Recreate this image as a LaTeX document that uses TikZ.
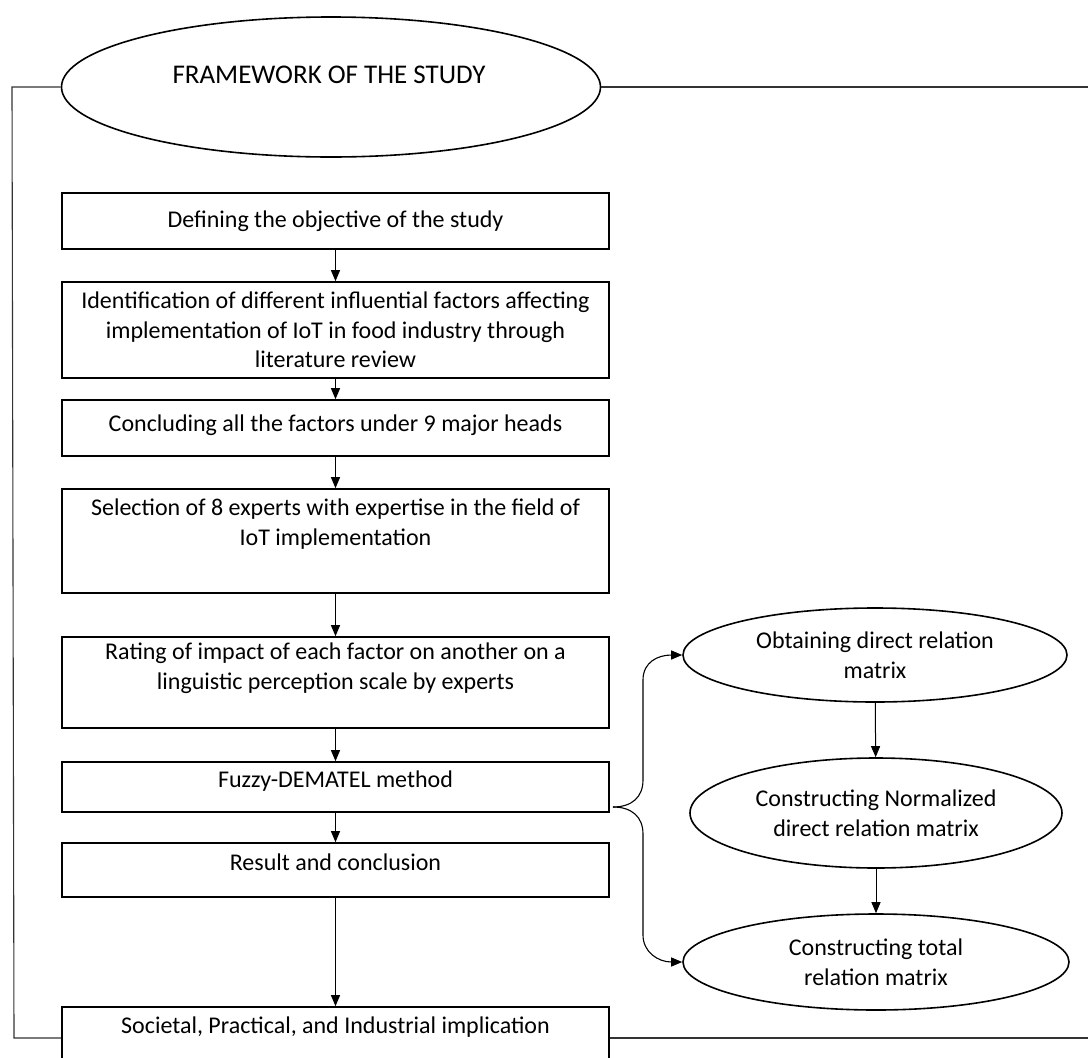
\documentclass[tikz,border=0pt]{standalone}
\usepackage{fontspec}
\setmainfont{Carlito}
\usetikzlibrary{shapes.geometric,arrows.meta}
\begin{document}
\begin{tikzpicture}[x=1pt,y=-1pt,
  every node/.style={font=\fontsize{24pt}{29.5pt}\selectfont},
  stepbox/.style={draw, line width=1.6pt, minimum width=547pt, inner sep=0pt},
  txt/.style={align=center, inner sep=0pt},
  ell/.style={draw, ellipse, line width=1.6pt, inner sep=0pt, align=center},
  arr/.style={-{Triangle[length=11pt,width=9pt]}, line width=1pt},
  frameline/.style={line width=1.1pt, draw=black!80}]
\useasboundingbox (0,0) rectangle (1088,1058);
\clip (0,0) rectangle (1088,1058);
\fill[white] (0,0) rectangle (1088,1058);

% title
\node[ell, minimum width=539pt, minimum height=140pt] (title) at (331,87) {};
\node[txt, font=\fontsize{27pt}{32pt}\selectfont] (titletext) at (329,75) {FRAMEWORK OF THE STUDY};

% main boxes
\node[stepbox, minimum height=56pt] (b1) at (335.5,221) {};
\node[stepbox, minimum height=96pt] (b2) at (335.5,330) {};
\node[stepbox, minimum height=56pt] (b3) at (335.5,428) {};
\node[stepbox, minimum height=104pt] (b4) at (335.5,541) {};
\node[stepbox, minimum height=91pt] (b5) at (335.5,682.5) {};
\node[stepbox, minimum height=50pt] (b6) at (335.5,787) {};
\node[stepbox, minimum height=54pt] (b7) at (335.5,870) {};
\node[stepbox, minimum height=62pt] (b8) at (335.5,1038) {};

\node[txt] (t1) at (335.5,221) {Defining the objective of the study};
\node[txt] (t2) at (335.5,330) {Identification of different influential factors affecting\\implementation of IoT in food industry through\\literature review};
\node[txt] (t3) at (335.5,425) {Concluding all the factors under 9 major heads};
\node[txt] (t4) at (335.5,524) {Selection of 8 experts with expertise in the field of\\IoT implementation};
\node[txt] (t5) at (335.5,668) {Rating of impact of each factor on another on a\\linguistic perception scale by experts};
\node[txt] (t6) at (335.5,781) {Fuzzy-DEMATEL method};
\node[txt] (t7) at (335.5,862) {Result and conclusion};
\node[txt] (t8) at (335.5,1027) {Societal, Practical, and Industrial implication};

% right ellipses
\node[ell, minimum width=384pt, minimum height=94pt] (e1) at (875,655) {Obtaining direct relation\\matrix};
\node[ell, minimum width=372pt, minimum height=110pt] (e2) at (876,813) {Constructing Normalized\\direct relation matrix};
\node[ell, minimum width=386pt, minimum height=96pt] (e3) at (876,962) {Constructing total\\relation matrix};

% arrows between boxes
\draw[arr] (b1) -- (b2);
\draw[arr] (b2) -- (b3);
\draw[arr] (b3) -- (b4);
\draw[arr] (b4) -- (b5);
\draw[arr] (b5) -- (b6);
\draw[arr] (b6) -- (b7);
\draw[arr] (b7) -- (b8);
\draw[arr] (e1) -- (e2);
\draw[arr] (e2) -- (e3);

% brace
\coordinate (tip) at (613,807);
\draw[arr, line width=1.1pt] (tip) .. controls (632,807) and (643,797) .. (643,780) -- (643,680) .. controls (643,662) and (658,655) .. (e1.west);
\draw[arr, line width=1.1pt] (tip) .. controls (632,807) and (643,817) .. (643,834) -- (643,935) .. controls (643,952) and (658,962) .. (e3.west);

% frame lines
\coordinate (fl1) at (12,87);
\coordinate (fl2) at (14,1038);
\coordinate (fr1) at (1088,87);
\coordinate (fr2) at (1088,1038);
\draw[frameline] (title.west) -- (fl1) -- (fl2) -- (b8.west);
\draw[frameline] (title.east) -- (fr1);
\draw[frameline] (b8.east) -- (fr2);
\end{tikzpicture}
\end{document}
